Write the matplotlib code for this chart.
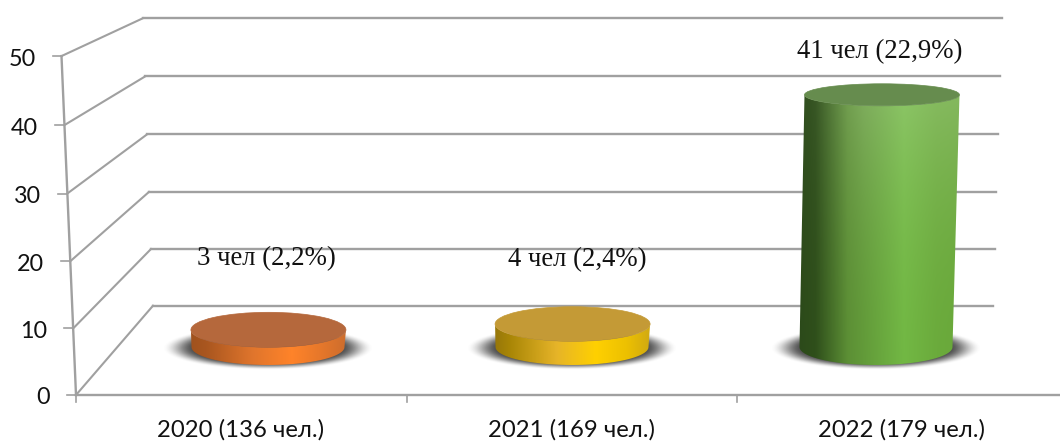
import numpy as np
import matplotlib
matplotlib.use("Agg")
import matplotlib.pyplot as plt
from matplotlib.colors import LinearSegmentedColormap, to_rgb
from matplotlib.patches import Ellipse, PathPatch
from matplotlib.path import Path

categories = ["2020 (136 чел.)", "2021 (169 чел.)", "2022 (179 чел.)"]
values = [3, 4, 41]
point_labels = ["3 чел (2,2%)", "4 чел (2,4%)", "41 чел (22,9%)"]
value_ticks = [0, 10, 20, 30, 40, 50]

W, H = 1060, 441
GRID = "#a0a0a0"
TEXT_FONT = ["Lato", "Open Sans", "DejaVu Sans"]

# colours along the cylinder side, left to right
side_stops = [
    [(0, "#a0521e"), (0.1, "#a9561f"), (0.4, "#e0752c"), (0.65, "#ff8329"), (0.85, "#e4762a"), (1, "#cc6c2c")],
    [(0, "#96760a"), (0.1, "#a98606"), (0.4, "#e6b428"), (0.65, "#ffd000"), (0.85, "#ecc000"), (1, "#d0a810")],
    [(0, "#2c4a1a"), (0.1, "#2f4f1b"), (0.3, "#5c8f35"), (0.65, "#72b844"), (0.85, "#6bab3c"), (1, "#69a83a")],
]
top_colours = ["#b5683c", "#c49a36", "#668c4e"]


# oblique box of the chart, all in picture pixels
def front(v):
    return 76 - 0.29 * v, 395 - 6.62 * v - 0.00317 * v ** 2


def back(v):
    return 153 - 0.2 * v, 305.7 - 5.65 * v - 0.002 * v ** 2


def back_right(v):
    return 992.7 + 0.18 * v


def bar_centre(i, v):
    return 268 + 304 * i + 0.146 * v, 347 - 5.7 * v - 0.011 * v ** 2


def half_height(v):
    return 18 - 0.17 * v


fig = plt.figure(figsize=(W / 100, H / 100), dpi=100)
ax = fig.add_axes([0, 0, 1, 1])

# grid, side wall and axis
for v in value_ticks:
    fx, fy = front(v)
    bx, by = back(v)
    ax.plot([fx, bx], [fy, by], color=GRID, lw=1.5, zorder=1)
    ax.plot([bx, back_right(v)], [by, by], color=GRID, lw=1.7, zorder=1)
    ax.plot([fx - 9, fx], [fy, fy], color=GRID, lw=1.2, zorder=1)
    ax.text(fx - 26, fy + 3, str(v), ha="right", va="center", fontsize=16.8,
            family=TEXT_FONT, color="#111111")

x0, y0 = front(0)
x1, y1 = front(value_ticks[-1])
ax.plot([x0, x1], [y0, y1], color=GRID, lw=1.7, zorder=1)
ax.plot([x0, W], [y0, y0], color=GRID, lw=1.7, zorder=1)
for i in range(3):
    tx = x0 + 330.5 * i
    ax.plot([tx, tx], [y0, y0 + 7], color=GRID, lw=1.2, zorder=1)

# cylinders
for i, v in enumerate(values):
    bcx, bcy = bar_centre(i, 0)
    tcx, tcy = bar_centre(i, v)
    hb = half_height(0)
    ht = half_height(v)
    wb, wt = 76.5, 77.5

    # soft shadow on the floor
    xs = np.linspace(bcx - 125, bcx + 125, 260)
    ys = np.linspace(bcy - 35, bcy + 35, 90)
    gx, gy = np.meshgrid(xs, ys)
    r = np.sqrt(((gx - bcx) / 106) ** 2 + ((gy - bcy - 1) / 22) ** 2)
    edge = np.clip((1 - r) / 0.32, 0, 1)
    shadow = np.zeros((90, 260, 4))
    shadow[..., :3] = to_rgb("#404040")
    shadow[..., 3] = edge * edge * (3 - 2 * edge) * 0.95
    ax.imshow(shadow, extent=[xs[0], xs[-1], ys[-1], ys[0]], origin="upper",
              aspect="auto", zorder=3)

    # side surface
    t = np.linspace(0, np.pi, 60)
    bottom_arc = np.column_stack([bcx - wb * np.cos(t), bcy + hb * np.sin(t)])
    top_arc = np.column_stack([tcx + wt * np.cos(t), tcy + ht * np.sin(t)])
    outline = np.vstack([bottom_arc, top_arc, bottom_arc[:1]])
    side = Path(outline, closed=True)

    left = min(bcx - wb, tcx - wt) - 1
    right = max(bcx + wb, tcx + wt) + 1
    upper = tcy - ht - 1
    lower = bcy + hb + 1
    cmap = LinearSegmentedColormap.from_list("side", side_stops[i])
    img = cmap(np.linspace(0, 1, 300))[:, :3][None, :, :].repeat(200, axis=0)
    # tall bar gets lighter towards the top, not so much on its dark edge
    fade = np.linspace(1, 0, 200)[:, None, None] ** 2 * min((lower - upper) / 280, 1) * 0.2
    fade = fade * np.clip(np.linspace(0, 2.5, 300), 0.15, 1)[None, :, None]
    img = img * (1 - fade) + fade
    im = ax.imshow(img, extent=[left, right, lower, upper], origin="upper",
                   aspect="auto", zorder=4, interpolation="bilinear")
    im.set_clip_path(PathPatch(side, transform=ax.transData))

    ax.add_patch(Ellipse((tcx, tcy), 2 * wt, 2 * ht, facecolor=top_colours[i],
                         edgecolor=top_colours[i], lw=0.5, zorder=5))

# labels
label_x = [266, 577, 880]
label_y = [259, 260, 52]
for i, text in enumerate(point_labels):
    ax.text(label_x[i], label_y[i], text, ha="center", va="center", fontsize=19.3,
            family="Liberation Serif", color="#111111", zorder=6)

cat_x = [241, 571, 902]
for i, name in enumerate(categories):
    ax.text(cat_x[i], 430, name, ha="center", va="center", fontsize=17.2,
            family=TEXT_FONT, color="#111111")

ax.set_xlim(0, W)
ax.set_ylim(H, 0)
ax.axis("off")
fig.savefig("out.png", dpi=100, facecolor="white")
